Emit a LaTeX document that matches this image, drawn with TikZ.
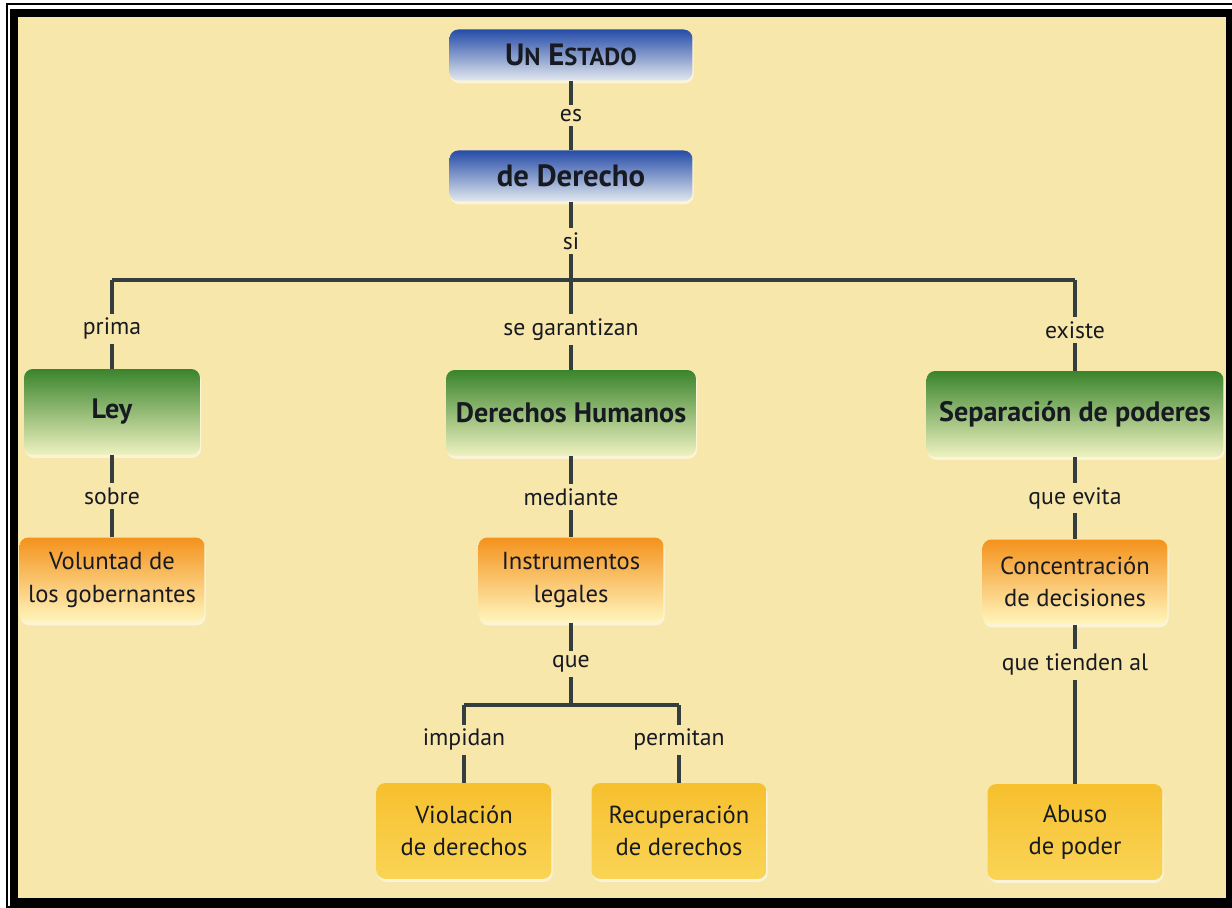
\documentclass[tikz,border=0pt]{standalone}
\usepackage{fontspec}
\setmainfont{PT Sans}
\usetikzlibrary{shadows}

\definecolor{papel}{RGB}{248,231,170}
\definecolor{linea}{RGB}{52,62,62}
\definecolor{tinta}{RGB}{24,26,34}

\tikzset{
	caja/.style={rounded corners=5pt, align=center, text=tinta,
		drop shadow={shadow xshift=0.6pt, shadow yshift=-1.6pt, fill=white, opacity=.55}},
	azul/.style={caja, minimum width=4.86cm, minimum height=1.02cm,
		top color={rgb,255:red,38;green,76;blue,168}, middle color={rgb,255:red,92;green,132;blue,205},
		bottom color={rgb,255:red,226;green,232;blue,238}, font=\fontsize{17.5}{20}\selectfont\bfseries},
	verde/.style={caja, minimum height=1.72cm,
		top color={rgb,255:red,58;green,132;blue,44}, middle color={rgb,255:red,120;green,176;blue,86},
		bottom color={rgb,255:red,238;green,242;blue,192}, font=\fontsize{16}{18}\selectfont\bfseries},
	naranja/.style={caja, minimum width=3.7cm, minimum height=1.7cm,
		top color={rgb,255:red,244;green,146;blue,28}, middle color={rgb,255:red,250;green,204;blue,84},
		bottom color={rgb,255:red,255;green,246;blue,190}, font=\fontsize{14}{18.5}\selectfont},
	amarillo/.style={caja, minimum width=3.5cm, minimum height=1.92cm,
		top color={rgb,255:red,246;green,192;blue,46}, bottom color={rgb,255:red,250;green,212;blue,86},
		font=\fontsize{14}{18.5}\selectfont},
	enlace/.style={draw=linea, line width=2.4pt},
	rotulo/.style={fill=papel, inner sep=2.5pt, text=tinta, font=\fontsize{13.5}{15}\selectfont}
}

\begin{document}
\begin{tikzpicture}[x=0.02cm, y=-0.02cm]
	\useasboundingbox (0,0) rectangle (1232,908);
	\fill[white] (0,0) rectangle (1232,908);
	\fill[papel] (18,17) rectangle (1226,898);
	\draw[line width=1pt] (7,4) rectangle (1240,907);
	\draw[line width=4.6pt] (14,13) rectangle (1230,902);

	\node[azul] (estado) at (571,55) {U{\fontsize{14}{16}\selectfont N} E{\fontsize{14}{16}\selectfont STADO}};
	\node[azul] (derecho) at (571,176) {de Derecho};

	\coordinate (junc) at (571,280);
	\coordinate (jizq) at (112,280);
	\coordinate (jder) at (1075,280);

	\node[verde, minimum width=3.52cm] (ley) at (112,412) {Ley};
	\node[verde, minimum width=5.0cm] (dh) at (571,413) {Derechos Humanos};
	\node[verde, minimum width=5.94cm] (sep) at (1075,414) {Separación de poderes};

	\node[naranja] (voluntad) at (112,580) {Voluntad de\\los gobernantes};
	\node[naranja] (instr) at (571,580) {Instrumentos\\legales};
	\node[naranja] (conc) at (1075,582) {Concentración\\de decisiones};

	\coordinate (jque) at (571,705);
	\coordinate (jimp) at (464,705);
	\coordinate (jper) at (679,705);

	\node[amarillo] (viol) at (464,831) {Violación\\de derechos};
	\node[amarillo] (recup) at (679,831) {Recuperación\\de derechos};
	\node[amarillo] (abuso) at (1075,832) {Abuso\\de poder};

	\draw[enlace] (estado) -- node[rotulo] {es} (derecho);
	\draw[enlace] (derecho) -- node[rotulo] {si} (junc);
	\draw[enlace] (jizq) -- (jder);
	\draw[enlace] (jizq) -- node[rotulo, pos=.55] {prima} (ley);
	\draw[enlace] (junc) -- node[rotulo, pos=.55] {se garantizan} (dh);
	\draw[enlace] (jder) -- node[rotulo, pos=.55] {existe} (sep);
	\draw[enlace] (ley) -- node[rotulo] {sobre} (voluntad);
	\draw[enlace] (dh) -- node[rotulo] {mediante} (instr);
	\draw[enlace] (sep) -- node[rotulo] {que evita} (conc);
	\draw[enlace] (instr) -- node[rotulo] {que} (jque);
	\draw[enlace] (jimp) -- (jper);
	\draw[enlace] (jimp) -- node[rotulo, pos=.45] {impidan} (viol);
	\draw[enlace] (jper) -- node[rotulo, pos=.45] {permitan} (recup);
	\draw[enlace] (conc) -- node[rotulo, pos=.25] {que tienden al} (abuso);
\end{tikzpicture}
\end{document}
